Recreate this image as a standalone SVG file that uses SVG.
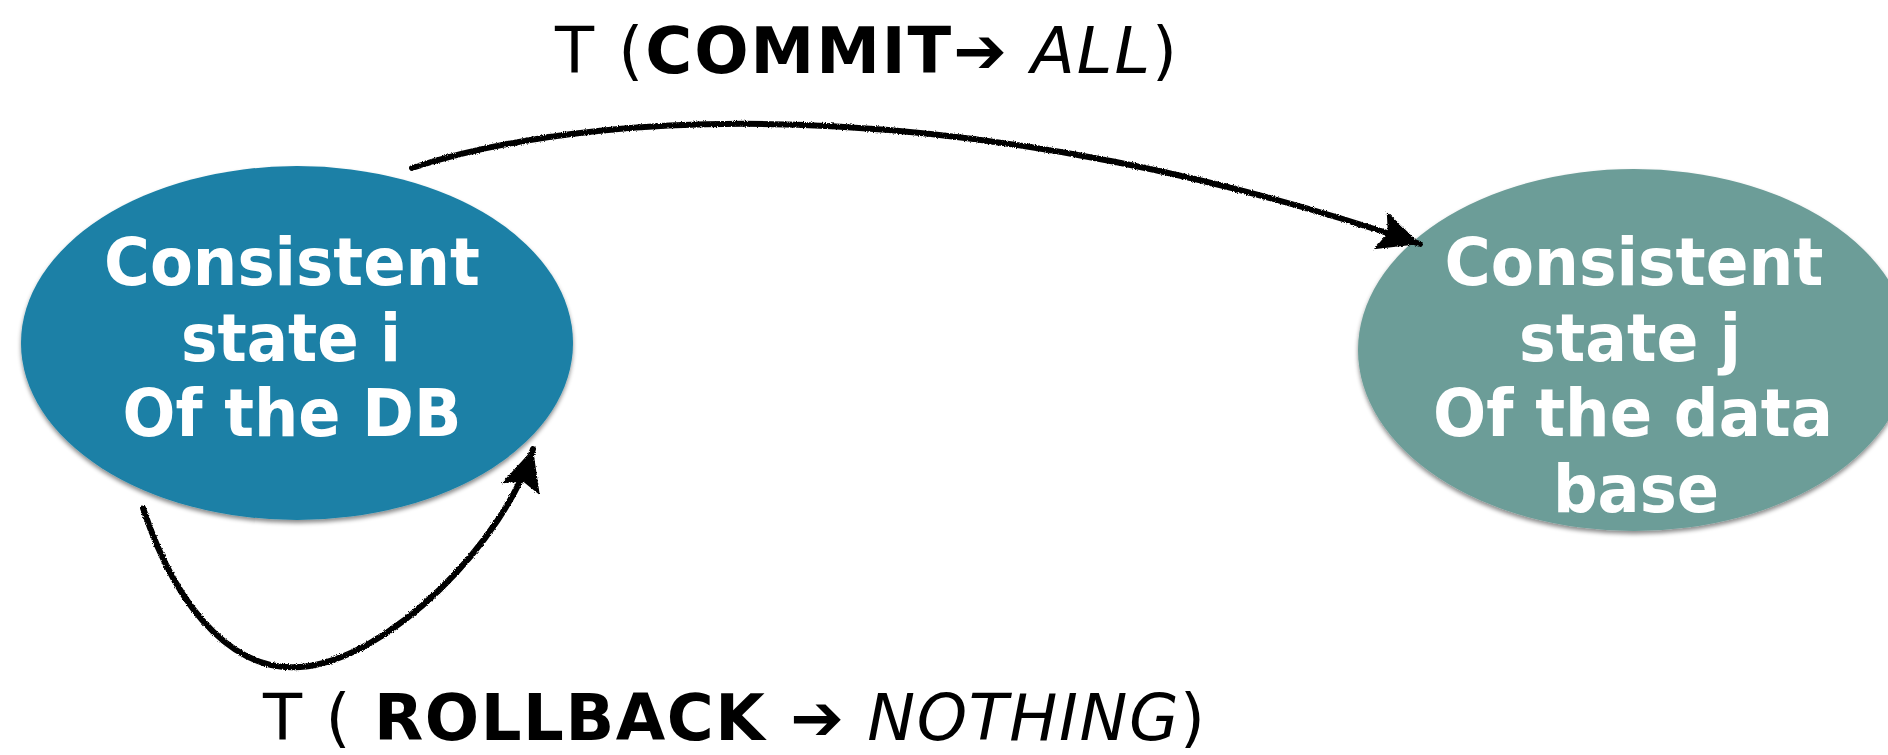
<svg xmlns="http://www.w3.org/2000/svg" width="1888" height="755" viewBox="0 0 1888 755">
  <style>
    .node-text { font-family: "DejaVu Sans", Verdana, sans-serif; font-weight: bold; font-size: 66px; fill: #ffffff; text-anchor: middle; }
    .label { font-family: "DejaVu Sans", Verdana, sans-serif; font-size: 64px; fill: #000000; }
    .b { font-weight: bold; }
    .i { font-style: italic; }
    .conn { fill: none; stroke: #000000; stroke-width: 6; stroke-linecap: round; }
  </style>
  <defs>
    <filter id="shadow" x="-10%" y="-10%" width="120%" height="125%">
      <feDropShadow dx="0" dy="3" stdDeviation="2" flood-color="#000000" flood-opacity="0.45"/>
    </filter>
    <filter id="rough" x="-5%" y="-5%" width="110%" height="110%">
      <feTurbulence type="fractalNoise" baseFrequency="0.9" numOctaves="2" seed="3" result="n"/>
      <feDisplacementMap in="SourceGraphic" in2="n" scale="3" xChannelSelector="R" yChannelSelector="G"/>
    </filter>
    <marker id="arrow" markerUnits="userSpaceOnUse" markerWidth="48" markerHeight="44" refX="42" refY="20" orient="auto">
      <path d="M0,0 L42,20 L0,40 L8,20 Z" fill="#000000"/>
    </marker>
  </defs>

  <g id="node-state-i">
    <ellipse cx="297" cy="343" rx="276" ry="177" fill="#1a80a6" filter="url(#shadow)"/>
    <text class="node-text" x="292" y="285" textLength="376" lengthAdjust="spacingAndGlyphs">Consistent</text>
    <text class="node-text" x="291" y="361" textLength="220" lengthAdjust="spacingAndGlyphs">state i</text>
    <text class="node-text" x="292" y="436" textLength="339" lengthAdjust="spacingAndGlyphs">Of the DB</text>
  </g>

  <g id="node-state-j">
    <ellipse cx="1634" cy="350" rx="276" ry="181" fill="#6c9d98" filter="url(#shadow)"/>
    <text class="node-text" x="1634" y="285" textLength="379" lengthAdjust="spacingAndGlyphs">Consistent</text>
    <text class="node-text" x="1630" y="361" textLength="222" lengthAdjust="spacingAndGlyphs">state j</text>
    <text class="node-text" x="1633" y="436" textLength="400" lengthAdjust="spacingAndGlyphs">Of the data</text>
    <text class="node-text" x="1636" y="512" textLength="166" lengthAdjust="spacingAndGlyphs">base</text>
  </g>

  <g id="connectors">
    <g filter="url(#rough)">
      <path class="conn" d="M412,168 C620,100 1000,100 1420,244" marker-end="url(#arrow)"/>
      <path class="conn" d="M143,508 C180,620 240,672 300,667 C390,660 505,540 533,449" marker-end="url(#arrow)"/>
    </g>
  </g>

  <g id="label-commit">
    <text class="label" x="555" y="73" textLength="622" lengthAdjust="spacing">T (<tspan class="b">COMMIT➔</tspan> <tspan class="i">ALL</tspan>)</text>
  </g>
  <g id="label-rollback">
    <text class="label" x="263" y="740" textLength="942" lengthAdjust="spacing">T ( <tspan class="b">ROLLBACK ➔</tspan> <tspan class="i">NOTHING</tspan>)</text>
  </g>
</svg>
